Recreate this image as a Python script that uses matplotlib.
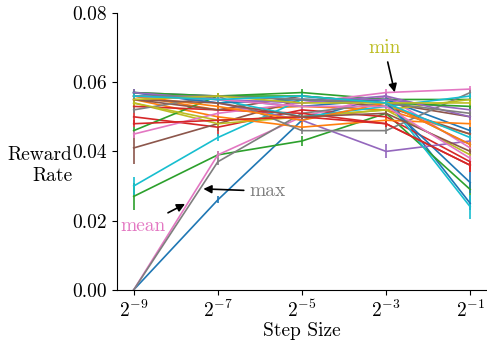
import numpy as np
import matplotlib
matplotlib.use('Agg')
import matplotlib.pyplot as plt

plt.rcParams['font.family'] = 'serif'
plt.rcParams['font.serif'] = ['cmr10']
plt.rcParams['mathtext.fontset'] = 'cm'
plt.rcParams['axes.formatter.use_mathtext'] = True
plt.rcParams['font.size'] = 14

step_exp = [-9, -7, -5, -3, -1]
steps = [2.0 ** e for e in step_exp]

# reward rate per run, one row per step size sweep
rates = [
    [0.000, 0.026, 0.049, 0.056, 0.025],
    [0.056, 0.052, 0.053, 0.052, 0.045],
    [0.027, 0.039, 0.043, 0.051, 0.029],
    [0.050, 0.047, 0.052, 0.050, 0.037],
    [0.057, 0.054, 0.049, 0.040, 0.043],
    [0.041, 0.048, 0.055, 0.053, 0.045],
    [0.000, 0.039, 0.050, 0.056, 0.041],
    [0.000, 0.037, 0.051, 0.054, 0.042],
    [0.054, 0.048, 0.050, 0.052, 0.039],
    [0.030, 0.044, 0.055, 0.055, 0.024],
    [0.056, 0.055, 0.053, 0.055, 0.046],
    [0.055, 0.050, 0.047, 0.049, 0.048],
    [0.046, 0.056, 0.057, 0.055, 0.055],
    [0.053, 0.052, 0.051, 0.048, 0.036],
    [0.057, 0.056, 0.055, 0.055, 0.052],
    [0.055, 0.052, 0.056, 0.054, 0.050],
    [0.045, 0.051, 0.054, 0.057, 0.058],
    [0.052, 0.056, 0.046, 0.046, 0.057],
    [0.054, 0.049, 0.050, 0.052, 0.055],
    [0.057, 0.055, 0.050, 0.053, 0.056],
    [0.057, 0.054, 0.055, 0.054, 0.031],
    [0.056, 0.053, 0.049, 0.054, 0.042],
    [0.057, 0.056, 0.056, 0.054, 0.053],
    [0.048, 0.049, 0.050, 0.048, 0.036],
    [0.057, 0.055, 0.054, 0.056, 0.050],
    [0.055, 0.054, 0.050, 0.051, 0.040],
    [0.056, 0.055, 0.053, 0.053, 0.038],
    [0.056, 0.056, 0.055, 0.054, 0.051],
    [0.055, 0.056, 0.054, 0.054, 0.054],
    [0.056, 0.055, 0.056, 0.054, 0.044],
]

errs = [
    [0.000, 0.001, 0.001, 0.001, 0.002],
    [0.001, 0.001, 0.001, 0.001, 0.001],
    [0.004, 0.001, 0.0015, 0.001, 0.002],
    [0.0025, 0.0025, 0.001, 0.0015, 0.002],
    [0.001, 0.001, 0.001, 0.002, 0.001],
    [0.0045, 0.002, 0.001, 0.001, 0.002],
    [0.000, 0.001, 0.001, 0.001, 0.001],
    [0.000, 0.001, 0.002, 0.001, 0.001],
    [0.001, 0.001, 0.001, 0.001, 0.001],
    [0.0025, 0.001, 0.001, 0.001, 0.0035],
    [0.001, 0.001, 0.001, 0.001, 0.001],
    [0.001, 0.001, 0.001, 0.001, 0.001],
    [0.001, 0.001, 0.001, 0.001, 0.001],
    [0.001, 0.001, 0.001, 0.001, 0.002],
    [0.001, 0.001, 0.001, 0.001, 0.001],
    [0.001, 0.001, 0.001, 0.001, 0.001],
    [0.001, 0.001, 0.001, 0.001, 0.001],
    [0.001, 0.001, 0.001, 0.001, 0.001],
    [0.001, 0.001, 0.001, 0.001, 0.001],
    [0.001, 0.001, 0.001, 0.001, 0.001],
    [0.001, 0.001, 0.001, 0.001, 0.003],
    [0.001, 0.001, 0.001, 0.001, 0.001],
    [0.001, 0.001, 0.001, 0.001, 0.001],
    [0.001, 0.001, 0.001, 0.001, 0.002],
    [0.001, 0.001, 0.001, 0.001, 0.001],
    [0.001, 0.001, 0.001, 0.001, 0.001],
    [0.001, 0.001, 0.001, 0.001, 0.001],
    [0.001, 0.001, 0.001, 0.001, 0.001],
    [0.001, 0.001, 0.001, 0.001, 0.001],
    [0.001, 0.001, 0.001, 0.001, 0.001],
]

fig = plt.figure(figsize=(4.87, 3.41), dpi=100)
ax = fig.add_axes([0.240, 0.150, 0.760, 0.812])

for i, (r, e) in enumerate(zip(rates, errs)):
    ax.errorbar(steps, r, yerr=e, color='C%d' % (i % 10), lw=1.2, elinewidth=1.2, capsize=0)

ax.set_xscale('log', base=2)
ax.set_xticks(steps)
ax.xaxis.set_minor_locator(matplotlib.ticker.NullLocator())
ax.set_ylim(0, 0.08)
ax.set_yticks([0, 0.02, 0.04, 0.06, 0.08])
ax.yaxis.set_major_formatter(matplotlib.ticker.FormatStrFormatter('%.2f'))
ax.spines['top'].set_visible(False)
ax.spines['right'].set_visible(False)

ax.set_xlabel('Step Size', labelpad=1)
ax.set_ylabel('Reward\nRate', rotation=0, ha='right', va='center', multialignment='right')
ax.yaxis.set_label_coords(-0.12, 0.45)

arrow = dict(arrowstyle='-|>', color='black', lw=1.2, mutation_scale=12)
ax.annotate('min', xy=(2 ** -2.78, 0.0563), xytext=(2 ** -3.04, 0.0700),
            color='#bcbd22', ha='center', va='center', arrowprops=arrow)
ax.annotate('max', xy=(2 ** -7.41, 0.0292), xytext=(2 ** -5.82, 0.0285),
            color='#7f7f7f', ha='center', va='center', arrowprops=arrow)
ax.annotate('mean', xy=(2 ** -7.72, 0.0252), xytext=(2 ** -8.78, 0.0185),
            color='#e377c2', ha='center', va='center', arrowprops=arrow)

fig.savefig('out.png', dpi=100)
